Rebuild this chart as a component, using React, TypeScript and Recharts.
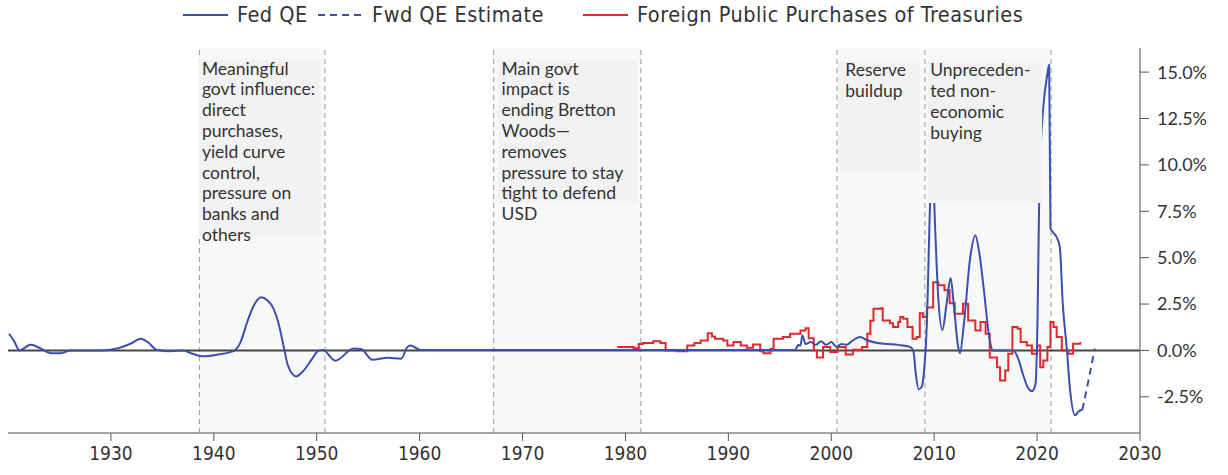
import React from "react";
import {
  ComposedChart,
  Line,
  XAxis,
  YAxis,
  ReferenceArea,
  ReferenceLine,
} from "recharts";

// ---------- DATA ----------
const fedYears = [
  1920.1, 1920.6, 1921.1, 1922.2, 1923.2, 1924.2, 1925.1, 1926.1, 1929.0, 1930.7,
  1931.9, 1932.9, 1933.7, 1934.4, 1935.8, 1937.0, 1937.8, 1939.0, 1940.4, 1941.9,
  1942.6, 1943.3, 1943.9, 1944.6, 1945.2, 1945.8, 1946.3, 1946.8, 1947.2, 1948.0,
  1948.7, 1949.5, 1950.2, 1950.6, 1951.8, 1953.6, 1954.3, 1955.4, 1956.9, 1958.2,
  1958.8, 1959.1, 1959.8, 1960.1, 1975.0, 1996.5, 1996.8, 1997.0, 1997.2, 1997.5,
  1998.0, 1998.5, 1999.0, 1999.5, 2000.0, 2000.5, 2001.0, 2001.5, 2002.0, 2002.8,
  2003.5, 2004.5, 2005.5, 2006.5, 2007.7, 2008.0, 2008.2, 2008.5, 2008.8, 2009.0,
  2009.3, 2009.55, 2009.8, 2010.1, 2010.4, 2010.8, 2011.2, 2011.6, 2011.9, 2012.3,
  2012.5, 2012.9, 2013.5, 2014.0, 2014.4, 2014.8, 2015.4, 2015.7, 2016.5, 2017.7,
  2018.2, 2018.6, 2019.1, 2019.5, 2019.85, 2020.05, 2020.2, 2020.35, 2020.6, 2021.0,
  2021.17, 2021.3, 2021.9, 2022.2, 2022.5, 2022.9, 2023.2, 2023.7, 2024.0, 2024.4,
];
const fedValues = [
  0.9, 0.5, 0.0, 0.3, 0.1, -0.15, -0.15, 0.0, 0.0, 0.12,
  0.36, 0.63, 0.4, 0.04, -0.04, 0.0, -0.15, -0.32, -0.22, -0.04,
  0.45, 1.62, 2.43, 2.86, 2.7, 2.25, 1.44, 0.18, -0.81, -1.4,
  -1.1, -0.5, 0.0, 0.02, -0.55, 0.1, 0.08, -0.5, -0.4, -0.45,
  0.18, 0.27, 0.09, 0.02, 0.02, 0.02, 0.3, 0.25, 0.8, 0.35,
  0.45, 0.3, 0.5, 0.3, 0.45, 0.2, 0.35, 0.3, 0.5, 0.72,
  0.55, 0.4, 0.35, 0.3, 0.18, -0.1, -1.2, -2.1, -1.95, -1.2,
  1.6, 7.0, 10.5, 6.5, 2.8, 1.1, 2.5, 3.9, 2.5, 0.3,
  -0.15, 1.5, 5.0, 6.2, 5.2, 3.4, 0.55, 0.0, 0.0, 0.0,
  -0.5, -1.24, -2.0, -2.2, -1.8, 2.0, 8.0, 10.8, 13.1, 14.9,
  15.4, 6.6, 6.1, 5.6, 2.5, 0.0, -2.1, -3.5, -3.3, -3.2,
];

const fwdYears = [2024.4, 2025.0, 2025.6];
const fwdValues = [-3.2, -1.6, 0.1];

const foreignYears = [
  1979.2, 1980.8, 1981.3, 1981.7, 1982.7, 1983.4, 1983.9, 1985.0, 1986.0, 1986.7,
  1987.3, 1988.0, 1988.4, 1988.7, 1989.5, 1989.9, 1990.5, 1991.2, 1991.8, 1992.4,
  1993.1, 1993.4, 1994.1, 1994.4, 1995.3, 1996.0, 1997.0, 1997.5, 1997.8, 1998.3,
  1998.6, 1999.2, 1999.9, 2000.6, 2001.4, 2002.1, 2003.0, 2003.5, 2003.8, 2004.1,
  2004.8, 2005.0, 2005.7, 2006.0, 2006.5, 2006.7, 2007.0, 2007.4, 2007.9, 2008.3,
  2008.6, 2008.9, 2009.3, 2009.9, 2010.4, 2011.0, 2011.5, 2012.0, 2012.8, 2013.3,
  2014.0, 2014.5, 2015.0, 2015.4, 2016.1, 2016.4, 2016.9, 2017.2, 2017.6, 2018.1,
  2018.4, 2019.0, 2019.5, 2020.0, 2020.3, 2020.6, 2021.0, 2021.3, 2021.6, 2021.9,
  2022.4, 2023.0, 2023.5, 2024.2,
];
const foreignValues = [
  0.18, 0.12, 0.35, 0.4, 0.49, 0.4, 0.0, -0.04, 0.27, 0.4,
  0.54, 0.92, 0.75, 0.63, 0.54, 0.27, 0.45, 0.27, 0.14, 0.32,
  -0.04, -0.15, 0.09, 0.63, 0.72, 0.9, 1.08, 1.19, 0.65, 0.0,
  -0.38, 0.18, -0.09, 0.18, -0.22, 0.04, 0.18, 0.9, 1.6, 2.25,
  2.27, 1.62, 1.46, 1.26, 1.53, 1.8, 1.71, 1.26, 0.63, 0.72,
  2.0, 1.8, 2.32, 3.67, 3.51, 3.24, 2.54, 1.98, 2.52, 1.62,
  1.08, 1.53, 0.9, -0.38, -0.9, -1.62, -1.08, -0.18, 1.26, 1.17,
  0.45, 0.27, -0.18, 0.27, -0.9, -0.54, 0.18, 1.53, 1.26, 0.72,
  0.0, -0.18, 0.36, 0.45,
];

const xTicks = [1930, 1940, 1950, 1960, 1970, 1980, 1990, 2000, 2010, 2020, 2030];
const yTicks = [-2.5, 0, 2.5, 5, 7.5, 10, 12.5, 15];

// shaded eras and their dashed boundaries (years)
const eraStarts = [1938.6, 1967.2, 2000.55, 2009.1];
const eraEnds = [1950.8, 1981.5, 2009.1, 2021.36];
const dashedYears = [1938.6, 1950.8, 1967.2, 1981.5, 2000.55, 2009.1, 2021.36];

// annotation boxes
const annoX1 = [1938.55, 1967.67, 2000.68, 2009.42];
const annoX2 = [1950.4, 1981.17, 2008.64, 2020.49];
const annoTop = [15.7, 15.7, 15.6, 15.6];
const annoBottom = [6.15, 7.95, 9.55, 7.95];
const annoLines = [
  ["Meaningful", "govt influence:", "direct", "purchases,", "yield curve", "control,", "pressure on", "banks and", "others"],
  ["Main govt", "impact is", "ending Bretton", "Woods\u2014", "removes", "pressure to stay", "tight to defend", "USD"],
  ["Reserve", "buildup"],
  ["Unpreceden-", "ted non-", "economic", "buying"],
];
const annoPad = [3, 3, 7, 2];

const seriesNames = ["Fed QE", "Fwd QE Estimate", "Foreign Public Purchases of Treasuries"];

// ---------- STYLE ----------
const BLUE = "#3d4fae";
const RED = "#e0282d";
const TEXT = "#333333";
const CONDENSED = "'DejaVu Sans Condensed', 'Liberation Sans Narrow', 'Roboto Condensed', Roboto, sans-serif";
const LATO = "Lato, 'Open Sans', sans-serif";
const legendLeft = [183, 318, 583];

const fedData = fedYears.map((y, i) => ({ year: y, v: fedValues[i] }));
const fwdData = fwdYears.map((y, i) => ({ year: y, v: fwdValues[i] }));
const foreignData = foreignYears.map((y, i) => ({ year: y, v: foreignValues[i] }));

const AnnoText = ({ viewBox, lines, pad }: any) => {
  if (!viewBox) return null;
  const x = viewBox.x + pad;
  const y0 = viewBox.y + 15.5;
  return (
    <text x={x} y={y0} fill={TEXT} fontFamily={LATO} fontSize={17.5}>
      {lines.map((l: string, i: number) => (
        <tspan key={i} x={x} y={y0 + i * 20.8}>
          {l}
        </tspan>
      ))}
    </text>
  );
};

const LegendItem = ({ color, dashed, label, left }: any) => (
  <div style={{ position: "absolute", left, top: 2, display: "flex", alignItems: "center", whiteSpace: "nowrap" }}>
    <svg width={45} height={6} style={{ marginRight: 9 }}>
      <line x1={0} y1={3} x2={45} y2={3} stroke={color} strokeWidth={2.2} strokeDasharray={dashed ? "7 5" : undefined} />
    </svg>
    <span>{label}</span>
  </div>
);

export default function App() {
  return (
    <div style={{ position: "absolute", left: 0, top: 0, width: 1228, height: 475, background: "#fff" }}>
      <div
        style={{
          position: "absolute",
          left: 0,
          top: 0,
          width: 1228,
          height: 32,
          fontFamily: CONDENSED,
          fontSize: 21.5,
          letterSpacing: 0.5,
          color: TEXT,
          lineHeight: "26px",
        }}
      >
        <LegendItem color={BLUE} label={seriesNames[0]} left={legendLeft[0]} />
        <LegendItem color={BLUE} dashed label={seriesNames[1]} left={legendLeft[1]} />
        <LegendItem color={RED} label={seriesNames[2]} left={legendLeft[2]} />
      </div>
      <ComposedChart
        width={1228}
        height={475}
        margin={{ top: 48, left: 8, right: 8, bottom: 6 }}
        style={{ position: "absolute", left: 0, top: 0 }}
      >
        <XAxis
          xAxisId="main"
          dataKey="year"
          type="number"
          domain={[1920, 2030]}
          ticks={xTicks}
          allowDataOverflow
          height={36}
          tickSize={8}
          tickLine={{ stroke: "#555" }}
          axisLine={{ stroke: "#888", strokeWidth: 1.5 }}
          tick={{ fill: TEXT, fontSize: 19, fontFamily: CONDENSED }}
          tickMargin={6}
        />
        <XAxis xAxisId="top" orientation="top" type="number" domain={[0, 1]} height={0} tick={false} tickLine={false} axisLine={{ stroke: "#888", strokeWidth: 1.5 }} />
        <YAxis
          yAxisId="main"
          orientation="right"
          type="number"
          domain={[-4.45, 16.3]}
          ticks={yTicks}
          allowDataOverflow
          width={80}
          tickSize={9}
          tickLine={{ stroke: "#555" }}
          axisLine={{ stroke: "#888", strokeWidth: 1.5 }}
          tick={{ fill: TEXT, fontSize: 18, fontFamily: LATO, textAnchor: "start" }}
          tickMargin={8}
          tickFormatter={(v: number) => v.toFixed(1) + "%"}
        />
        <YAxis yAxisId="left" orientation="left" type="number" domain={[0, 1]} width={0} tick={false} tickLine={false} axisLine={{ stroke: "#888", strokeWidth: 1.5 }} />

        {eraStarts.map((s, i) => (
          <ReferenceArea
            key={"era" + i}
            xAxisId="main"
            yAxisId="main"
            x1={s}
            x2={eraEnds[i]}
            fill="#f7f8f8"
            fillOpacity={1}
            stroke="none"
          />
        ))}
        {dashedYears.map((d, i) => (
          <ReferenceLine key={"dl" + i} xAxisId="main" yAxisId="main" x={d} stroke="#9a9a9a" strokeDasharray="5 4" strokeWidth={1} />
        ))}
        <ReferenceLine xAxisId="main" yAxisId="main" y={0} stroke="#444" strokeWidth={2} />

        <Line
          xAxisId="main"
          yAxisId="main"
          data={foreignData}
          dataKey="v"
          name={seriesNames[2]}
          type="stepAfter"
          stroke={RED}
          strokeWidth={2}
          dot={false}
          isAnimationActive={false}
        />
        <Line
          xAxisId="main"
          yAxisId="main"
          data={fedData}
          dataKey="v"
          name={seriesNames[0]}
          type="monotone"
          stroke={BLUE}
          strokeWidth={2}
          dot={false}
          isAnimationActive={false}
        />
        <Line
          xAxisId="main"
          yAxisId="main"
          data={fwdData}
          dataKey="v"
          name={seriesNames[1]}
          type="monotone"
          stroke={BLUE}
          strokeWidth={2}
          strokeDasharray="7 5"
          dot={false}
          isAnimationActive={false}
        />

        {annoX1.map((x1, i) => (
          <ReferenceArea
            key={"anno" + i}
            xAxisId="main"
            yAxisId="main"
            x1={x1}
            x2={annoX2[i]}
            y1={annoBottom[i]}
            y2={annoTop[i]}
            fill="#f2f2f2"
            fillOpacity={1}
            stroke="none"
            zIndex={1000}
            label={(p: any) => <AnnoText viewBox={p.viewBox} lines={annoLines[i]} pad={annoPad[i]} />}
          />
        ))}
      </ComposedChart>
    </div>
  );
}
